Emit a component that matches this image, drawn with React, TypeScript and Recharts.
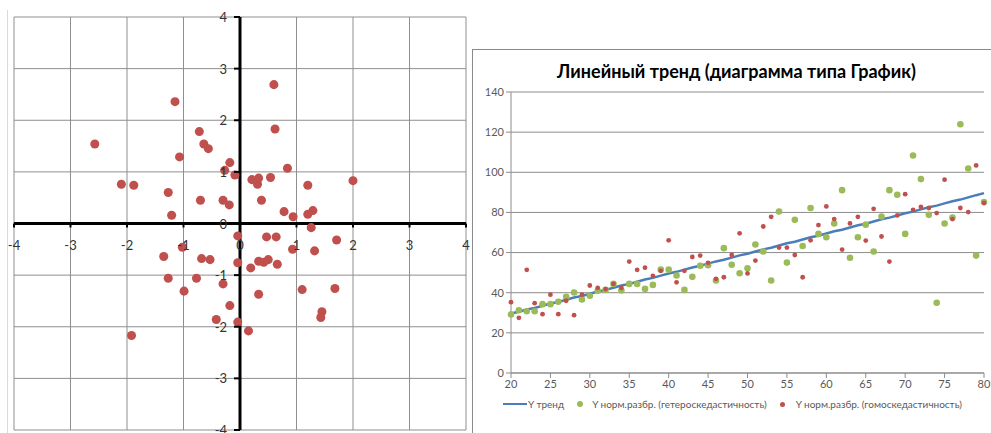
import React from "react";
import {
  ScatterChart,
  Scatter,
  ComposedChart,
  Line,
  XAxis,
  YAxis,
  CartesianGrid,
  ReferenceLine,
  Legend,
} from "recharts";

// left chart: scattered points around the origin
const crossTicks = [-4, -3, -2, -1, 0, 1, 2, 3, 4];
const crossX = [
  -2.57, -1.15, -2.1, -1.88, -1.27, -1.07, -1.21, -0.72, -0.64, -0.56,
  -0.7, -0.3, -0.19, -0.18, -0.27, -0.09, 0.6, 0.62, 0.84, 0.21,
  0.33, 0.31, 0.54, 0.38, 0.78, 0.94, 1.2, 1.2, 1.29, 2.0,
  1.26, -0.04, 0.47, 0.64, 1.71, 0.93, 1.32, -1.02, -1.35, -0.68,
  -0.53, -0.04, 0.33, 0.42, 0.5, 0.66, 0.19, -1.27, -0.77, -0.99,
  -0.3, 0.33, 1.1, 1.68, -0.18, -0.42, -0.04, 0.15, 1.45, 1.43, -1.92,
];
const crossY = [
  1.54, 2.36, 0.76, 0.74, 0.6, 1.29, 0.16, 1.78, 1.54, 1.45,
  0.45, 0.45, 0.36, 1.18, 1.03, 0.94, 2.69, 1.83, 1.07, 0.85,
  0.88, 0.76, 0.89, 0.45, 0.23, 0.13, 0.74, 0.18, 0.25, 0.83,
  -0.08, -0.24, -0.26, -0.26, -0.32, -0.5, -0.53, -0.46, -0.64, -0.68,
  -0.7, -0.76, -0.73, -0.75, -0.7, -0.79, -0.86, -1.06, -1.06, -1.31,
  -1.17, -1.37, -1.28, -1.26, -1.59, -1.86, -1.91, -2.08, -1.71, -1.82, -2.17,
];

// right chart: linear trend with two noisy samples
const years = [
  20, 21, 22, 23, 24, 25, 26, 27, 28, 29,
  30, 31, 32, 33, 34, 35, 36, 37, 38, 39,
  40, 41, 42, 43, 44, 45, 46, 47, 48, 49,
  50, 51, 52, 53, 54, 55, 56, 57, 58, 59,
  60, 61, 62, 63, 64, 65, 66, 67, 68, 69,
  70, 71, 72, 73, 74, 75, 76, 77, 78, 79, 80,
];
const trend = [
  29.6, 30.5, 31.6, 32.4, 33.5, 34.6, 35.4, 36.5, 37.6, 38.4,
  39.5, 40.6, 41.4, 42.5, 43.6, 44.4, 45.5, 46.6, 47.4, 48.5,
  49.6, 50.4, 51.5, 52.6, 53.4, 54.5, 55.6, 56.4, 57.5, 58.6,
  59.4, 60.5, 61.6, 62.4, 63.5, 64.6, 65.4, 66.5, 67.6, 68.4,
  69.5, 70.6, 71.4, 72.5, 73.6, 74.4, 75.5, 76.6, 77.4, 78.5,
  79.6, 80.4, 81.5, 82.6, 83.4, 84.5, 85.6, 86.4, 87.5, 88.6, 89.6,
];
const hetero = [
  29.2, 31.3, 30.8, 30.8, 34.3, 34.3, 35.5, 38, 40.1, 36.6,
  38.5, 41, 41.4, 44.4, 41.1, 44.4, 44.4, 41.9, 43.9, 51.5,
  51.5, 48.6, 41.4, 47.9, 53.4, 53.7, 46.1, 62.2, 53.9, 49.7,
  52.2, 64, 60.5, 46.1, 80.5, 55, 76.3, 63.3, 82.2, 69.3,
  67.6, 74.5, 91.1, 57.4, 67.6, 73.9, 60.5, 78, 91.1, 88.8,
  69.3, 108.4, 96.6, 78.8, 35, 74.5, 77.5, 123.9, 101.9, 58.5, 85.2,
];
const homo = [
  35.3, 27.5, 51.4, 34.8, 29.3, 39, 29.3, 36, 28.8, 39,
  43.6, 42.4, 41.8, 44.4, 42.4, 55.5, 51.4, 52.5, 48.4, 50.9,
  66.1, 45.2, 50.9, 57.8, 58.5, 54.9, 46.9, 47.7, 58.8, 69.6,
  49.6, 56, 73, 77.8, 62.5, 62.5, 58.8, 47.7, 66.1, 73.7,
  83, 76.7, 61.5, 74.5, 77.8, 66, 81.8, 68, 55.5, 78.5,
  89.1, 81.3, 82.7, 82.2, 79.7, 96.3, 76.7, 82.2, 80.2, 103.4, 84.7,
];
const xTicks = [20, 25, 30, 35, 40, 45, 50, 55, 60, 65, 70, 75, 80];
const yTicks = [0, 20, 40, 60, 80, 100, 120, 140];

const crossPoints = crossX.map((x, i) => ({ x, y: crossY[i] }));
const trendData = years.map((x, i) => ({
  x,
  trend: trend[i],
  hetero: hetero[i],
  homo: homo[i],
}));

const FONT = "Lato, 'Liberation Sans', sans-serif";
const PLOT = { left: 14, top: 17, width: 452, height: 413 };
const OX = PLOT.left + PLOT.width / 2;
const OY = PLOT.top + PLOT.height / 2;

const CrossXTick = ({ x, payload }: any) => (
  <g>
    <line x1={x} x2={x} y1={OY} y2={OY + 4} stroke="#000" strokeWidth={2} />
    <text x={x} y={OY + 26} textAnchor="middle" fontSize={13} fill="#333" fontFamily={FONT}>
      {payload.value}
    </text>
  </g>
);

const CrossYTick = ({ y, payload }: any) => (
  <g>
    <line x1={OX - 6} x2={OX} y1={y} y2={y} stroke="#000" strokeWidth={2} />
    <text x={OX - 13} y={y + 5} textAnchor="end" fontSize={13} fill="#333" fontFamily={FONT}>
      {payload.value}
    </text>
  </g>
);

const TrendLegend = () => (
  <div
    style={{
      display: "flex",
      alignItems: "center",
      paddingLeft: 31,
      fontFamily: FONT,
      fontSize: 10,
      color: "#595959",
      whiteSpace: "nowrap",
    }}
  >
    <span style={{ width: 24, height: 2, background: "#4A7EBB", display: "inline-block" }} />
    <span style={{ marginLeft: 1 }}>Y тренд</span>
    <span
      style={{ width: 6, height: 6, borderRadius: 3, background: "#9BBB59", marginLeft: 13, display: "inline-block" }}
    />
    <span style={{ marginLeft: 9 }}>Y норм.разбр. (гетероскедастичность)</span>
    <span
      style={{ width: 5, height: 5, borderRadius: 3, background: "#C0504D", marginLeft: 13, display: "inline-block" }}
    />
    <span style={{ marginLeft: 11 }}>Y норм.разбр. (гомоскедастичность)</span>
  </div>
);

export default function App() {
  return (
    <div
      style={{
        position: "absolute",
        left: 0,
        top: 0,
        width: 991,
        height: 433,
        background: "#fff",
        overflow: "hidden",
        fontFamily: FONT,
      }}
    >
      <div style={{ position: "absolute", left: 7, top: 10, height: 423, borderLeft: "1px solid #d8d8e4" }} />
      <div style={{ position: "absolute", left: 0, top: 0 }}>
        <ScatterChart
          width={470}
          height={433}
          margin={{
            top: PLOT.top,
            left: PLOT.left - 1,
            right: 470 - PLOT.left - PLOT.width,
            bottom: 433 - PLOT.top - PLOT.height - 1,
          }}
        >
          <CartesianGrid stroke="#8f8f8f" strokeWidth={1} />
          <XAxis
            type="number"
            dataKey="x"
            domain={[-4, 4]}
            ticks={crossTicks}
            height={1}
            axisLine={false}
            tickLine={false}
            tick={(p: any) => <CrossXTick {...p} />}
            interval={0}
          />
          <YAxis
            type="number"
            dataKey="y"
            domain={[-4, 4]}
            ticks={crossTicks}
            width={1}
            axisLine={false}
            tickLine={false}
            tick={(p: any) => <CrossYTick {...p} />}
            interval={0}
          />
          <ReferenceLine x={0} stroke="#000" strokeWidth={3} />
          <ReferenceLine y={0} stroke="#000" strokeWidth={3} />
          <Scatter data={crossPoints} fill="#C0504D" isAnimationActive={false} />
        </ScatterChart>
      </div>

      <div
        style={{
          position: "absolute",
          left: 472,
          top: 49,
          width: 530,
          height: 400,
          borderTop: "1px solid #8a8a8a",
          borderLeft: "1px solid #8a8a8a",
        }}
      />
      <div
        style={{
          position: "absolute",
          left: 482,
          top: 60,
          width: 509,
          textAlign: "center",
          fontWeight: "bold",
          fontSize: 18,
          color: "#000",
        }}
      >
        Линейный тренд (диаграмма типа График)
      </div>
      <div style={{ position: "absolute", left: 472, top: 49 }}>
        <ComposedChart width={519} height={384} data={trendData} margin={{ top: 43, right: 7, left: 0, bottom: 5 }}>
          <CartesianGrid vertical={false} stroke="#8c8c8c" />
          <XAxis
            type="number"
            dataKey="x"
            domain={[20, 80]}
            ticks={xTicks}
            interval={0}
            height={25}
            stroke="#8c8c8c"
            tickSize={5}
            tick={{ fill: "#595959", fontSize: 11, fontFamily: FONT }}
          />
          <YAxis
            type="number"
            domain={[0, 140]}
            ticks={yTicks}
            interval={0}
            width={39}
            stroke="#8c8c8c"
            tickSize={5}
            tick={{ fill: "#595959", fontSize: 11, fontFamily: FONT }}
          />
          <Legend height={30} verticalAlign="bottom" content={() => <TrendLegend />} />
          <Line dataKey="trend" stroke="#4A7EBB" strokeWidth={2.5} dot={false} isAnimationActive={false} />
          <Line
            dataKey="hetero"
            stroke="none"
            dot={{ r: 3.3, fill: "#9BBB59", stroke: "none" }}
            activeDot={false}
            isAnimationActive={false}
          />
          <Line
            dataKey="homo"
            stroke="none"
            dot={{ r: 2.4, fill: "#C0504D", stroke: "none" }}
            activeDot={false}
            isAnimationActive={false}
          />
        </ComposedChart>
      </div>
    </div>
  );
}
